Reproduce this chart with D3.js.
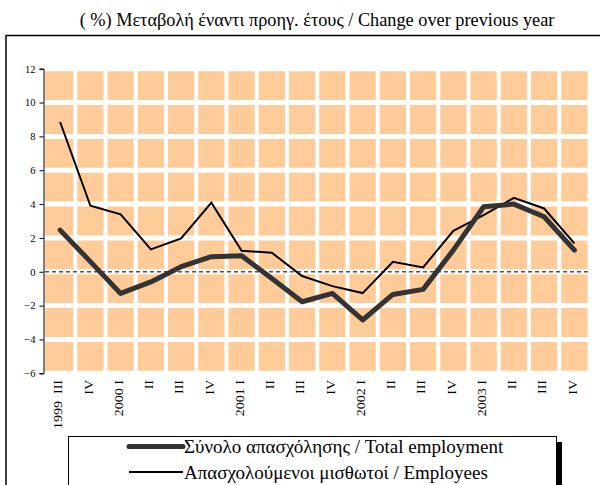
<!DOCTYPE html>
<meta charset="utf-8">
<style>
body{
  margin: 0;
  background: #fff;
}
svg{
  display: block;
  font-family: "Liberation Serif", "Times New Roman", serif;
}
</style>

<svg width="600" height="485"></svg>
<script src="https://d3js.org/d3.v7.min.js"></script>
<script>

// quarters on the x axis
var quarters = ["1999  III", "IV", "2000 I", "II", "III", "IV", "2001 I", "II", "III", "IV",
                "2002 I", "II", "III", "IV", "2003 I", "II", "III", "IV"];

// Σύνολο απασχόλησης / Total employment
var totalEmployment = [2.46, 0.6, -1.28, -0.6, 0.3, 0.89, 0.95, -0.4, -1.77, -1.28,
                       -2.85, -1.34, -1.04, 1.28, 3.84, 4.0, 3.25, 1.28];

// Απασχολούμενοι μισθωτοί / Employees
var employees = [8.85, 3.9, 3.39, 1.32, 1.97, 4.08, 1.24, 1.12, -0.25, -0.85,
                 -1.26, 0.59, 0.26, 2.42, 3.35, 4.37, 3.74, 1.68];

var yTicks = [-6, -4, -2, 0, 2, 4, 6, 8, 10, 12];

var legendLabels = ["Σύνολο απασχόλησης / Total employment",
                    "Απασχολούμενοι μισθωτοί / Employees"];

var svg = d3.select("svg");

var plotLeft = 45, plotRight = 589.5, plotTop = 68.7, plotBottom = 373.3;

var x = d3.scaleBand()
    .domain(d3.range(quarters.length))
    .range([plotLeft, plotRight]);

var y = d3.scaleLinear()
    .domain([-6, 12])
    .range([plotBottom, plotTop]);

// outer frame (runs off the right / bottom of the picture)
svg.append("rect")
    .attr("x", 6).attr("y", 35.5)
    .attr("width", 620).attr("height", 480)
    .attr("fill", "none")
    .attr("stroke", "#000")
    .attr("stroke-width", 1.5);

// title
svg.append("text")
    .attr("x", 317).attr("y", 26)
    .attr("text-anchor", "middle")
    .attr("font-size", 18.3)
    .text("( %) Μεταβολή έναντι προηγ. έτους / Change over previous year");

// plot area
svg.append("rect")
    .attr("x", plotLeft).attr("y", plotTop)
    .attr("width", plotRight - plotLeft).attr("height", plotBottom - plotTop)
    .attr("fill", "#ffcc99");

// white grid
svg.append("g")
  .selectAll("line")
  .data(yTicks)
  .enter().append("line")
    .attr("x1", plotLeft).attr("x2", plotRight)
    .attr("y1", d => y(d)).attr("y2", d => y(d))
    .attr("stroke", "#fff")
    .attr("stroke-width", 5);

svg.append("g")
  .selectAll("line")
  .data(d3.range(1, quarters.length + 1))
  .enter().append("line")
    .attr("x1", d => plotLeft + d * x.step()).attr("x2", d => plotLeft + d * x.step())
    .attr("y1", plotTop).attr("y2", plotBottom)
    .attr("stroke", "#fff")
    .attr("stroke-width", 4);

// zero line
svg.append("line")
    .attr("x1", plotLeft).attr("x2", plotRight)
    .attr("y1", y(0)).attr("y2", y(0))
    .attr("stroke", "#555")
    .attr("stroke-width", 1.5)
    .attr("stroke-dasharray", "4,3");

// y axis
var yAxis = svg.append("g")
    .attr("transform", "translate(43.5,0)")
    .call(d3.axisLeft(y).tickValues(yTicks).tickSize(4).tickPadding(4));
yAxis.select(".domain").attr("stroke", "#000");
yAxis.selectAll("text")
    .attr("font-family", "Liberation Serif, serif")
    .attr("font-size", 10.5)
    .attr("fill", "#000");

// x labels
svg.append("g")
  .selectAll("text")
  .data(quarters)
  .enter().append("text")
    .attr("transform", (d, i) => "translate(" + (x(i) + x.bandwidth() / 2 - 2) + ",380) rotate(-90) scale(1,0.85)")
    .attr("dy", "0.35em")
    .attr("text-anchor", "end")
    .attr("font-size", 14)
    .style("white-space", "pre")
    .text(d => d);

// series
var line = d3.line()
    .x((d, i) => x(i) + x.bandwidth() / 2)
    .y(d => y(d));

svg.append("path")
    .datum(employees)
    .attr("d", line)
    .attr("fill", "none")
    .attr("stroke", "#000")
    .attr("stroke-width", 2);

svg.append("path")
    .datum(totalEmployment)
    .attr("d", line)
    .attr("fill", "none")
    .attr("stroke", "#333")
    .attr("stroke-width", 5)
    .attr("stroke-linejoin", "round")
    .attr("stroke-linecap", "round");

// legend
svg.append("rect")
    .attr("x", 74).attr("y", 442)
    .attr("width", 488).attr("height", 60)
    .attr("fill", "#000");
svg.append("rect")
    .attr("x", 68.5).attr("y", 436.5)
    .attr("width", 488).attr("height", 60)
    .attr("fill", "#fff")
    .attr("stroke", "#000")
    .attr("stroke-width", 1);

var legend = svg.append("g")
  .selectAll("g")
  .data(legendLabels)
  .enter().append("g")
    .attr("transform", (d, i) => "translate(0," + (446.5 + i * 25.5) + ")");

legend.append("line")
    .attr("x1", 129).attr("x2", 183)
    .attr("stroke", (d, i) => i === 0 ? "#333" : "#000")
    .attr("stroke-width", (d, i) => i === 0 ? 5 : 2)
    .attr("stroke-linecap", (d, i) => i === 0 ? "round" : "butt");

legend.append("text")
    .attr("x", 184)
    .attr("dy", "0.35em")
    .attr("font-size", 19)
    .text(d => d);

</script>
